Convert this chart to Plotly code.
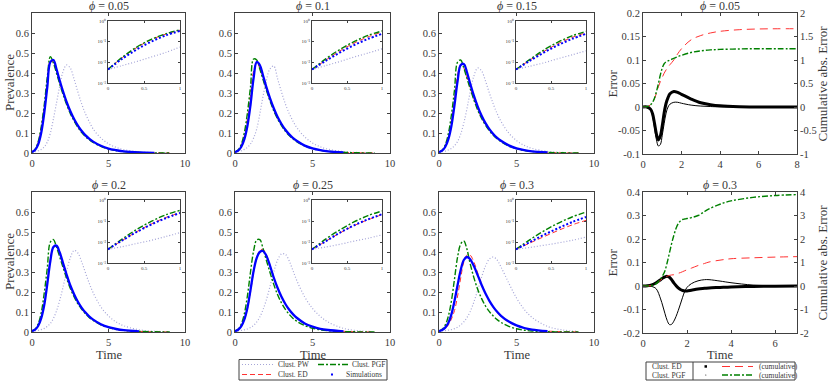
import plotly.graph_objects as go

SERIF = "Liberation Serif, Times New Roman, Times, serif"
W, H = 830, 381

# time grid of the prevalence curves
T = [0, 0.2, 0.4, 0.6, 0.8, 1.0, 1.2, 1.4, 1.6, 1.8, 2.0, 2.25, 2.5, 2.75, 3.0,
     3.25, 3.5, 3.75, 4.0, 4.5, 5, 5.5, 6, 7, 8, 9]

phi_labels = ["0.05", "0.1", "0.15", "0.2", "0.25", "0.3"]

# prevalence (Clust. PW / ED / PGF / Simulations)
pw_005 = [0.0045, 0.007, 0.011, 0.018, 0.03, 0.055, 0.1, 0.17, 0.25, 0.33, 0.4, 0.44, 0.425, 0.37, 0.305, 0.245, 0.195, 0.155, 0.12, 0.075, 0.046, 0.028, 0.017, 0.006, 0.002, 0.0005]
ed_005 = [0.0045, 0.017, 0.052, 0.125, 0.23, 0.36, 0.46, 0.455, 0.41, 0.355, 0.305, 0.25, 0.202, 0.163, 0.13, 0.104, 0.083, 0.067, 0.054, 0.034, 0.021, 0.013, 0.008, 0.003, 0.001, 0.0003]
pgf_005 = [0.0045, 0.018, 0.055, 0.13, 0.24, 0.38, 0.482, 0.45, 0.4, 0.348, 0.3, 0.245, 0.198, 0.16, 0.128, 0.102, 0.082, 0.066, 0.053, 0.033, 0.02, 0.012, 0.007, 0.0025, 0.0008, 0.0002]
sim_005 = [0.0045, 0.015, 0.042, 0.1, 0.2, 0.33, 0.455, 0.465, 0.42, 0.365, 0.315, 0.258, 0.21, 0.17, 0.137, 0.11, 0.088, 0.071, 0.057, 0.036, 0.022, 0.014, 0.008, 0.003, 0.001, None]

pw_01 = [0.0045, 0.007, 0.011, 0.018, 0.028, 0.045, 0.075, 0.12, 0.195, 0.28, 0.355, 0.42, 0.435, 0.37, 0.305, 0.245, 0.197, 0.158, 0.126, 0.08, 0.05, 0.031, 0.019, 0.007, 0.0025, 0.0008]
ed_01 = [0.0045, 0.013, 0.036, 0.085, 0.17, 0.29, 0.41, 0.448, 0.425, 0.378, 0.326, 0.268, 0.216, 0.174, 0.14, 0.112, 0.09, 0.072, 0.058, 0.036, 0.022, 0.014, 0.008, 0.003, 0.001, 0.0003]
pgf_01 = [0.0045, 0.015, 0.042, 0.1, 0.2, 0.33, 0.47, 0.465, 0.42, 0.37, 0.32, 0.262, 0.211, 0.17, 0.137, 0.109, 0.087, 0.07, 0.056, 0.035, 0.022, 0.013, 0.008, 0.003, 0.001, 0.0003]
sim_01 = [0.0045, 0.012, 0.03, 0.068, 0.135, 0.24, 0.375, 0.455, 0.44, 0.39, 0.336, 0.276, 0.224, 0.18, 0.145, 0.116, 0.093, 0.074, 0.06, 0.037, 0.023, 0.014, 0.008, 0.003, None, None]

pw_015 = [0.0045, 0.0065, 0.0095, 0.015, 0.023, 0.036, 0.058, 0.095, 0.15, 0.22, 0.3, 0.385, 0.425, 0.41, 0.36, 0.3, 0.245, 0.197, 0.158, 0.1, 0.062, 0.038, 0.023, 0.008, 0.003, 0.001]
ed_015 = [0.0045, 0.013, 0.034, 0.08, 0.16, 0.27, 0.39, 0.44, 0.425, 0.38, 0.33, 0.271, 0.219, 0.176, 0.142, 0.114, 0.091, 0.073, 0.059, 0.037, 0.023, 0.014, 0.008, 0.003, 0.001, 0.0003]
pgf_015 = [0.0045, 0.014, 0.04, 0.095, 0.19, 0.315, 0.455, 0.465, 0.425, 0.375, 0.325, 0.266, 0.214, 0.173, 0.139, 0.111, 0.089, 0.071, 0.057, 0.035, 0.022, 0.013, 0.008, 0.003, 0.001, 0.0003]
sim_015 = [0.0045, 0.012, 0.03, 0.068, 0.135, 0.24, 0.36, 0.44, 0.445, 0.405, 0.35, 0.287, 0.232, 0.186, 0.149, 0.119, 0.095, 0.076, 0.061, 0.038, 0.023, 0.014, 0.008, 0.003, None, None]

pw_02 = [0.0045, 0.006, 0.0085, 0.012, 0.018, 0.028, 0.043, 0.068, 0.105, 0.155, 0.215, 0.3, 0.37, 0.408, 0.395, 0.35, 0.295, 0.242, 0.196, 0.126, 0.08, 0.05, 0.031, 0.011, 0.004, 0.0012]
ed_02 = [0.0045, 0.012, 0.031, 0.072, 0.145, 0.25, 0.365, 0.425, 0.428, 0.395, 0.345, 0.283, 0.228, 0.183, 0.147, 0.117, 0.093, 0.074, 0.059, 0.037, 0.023, 0.014, 0.008, 0.003, 0.001, 0.0003]
pgf_02 = [0.0045, 0.014, 0.04, 0.095, 0.195, 0.32, 0.45, 0.462, 0.425, 0.378, 0.33, 0.271, 0.219, 0.176, 0.141, 0.113, 0.09, 0.072, 0.058, 0.036, 0.022, 0.013, 0.008, 0.003, 0.001, 0.0003]
sim_02 = [0.0045, 0.012, 0.03, 0.068, 0.135, 0.24, 0.355, 0.425, 0.432, 0.4, 0.352, 0.29, 0.234, 0.189, 0.151, 0.121, 0.097, 0.077, 0.062, 0.039, 0.024, 0.015, 0.009, 0.003, None, None]

pw_025 = [0.0045, 0.0058, 0.0078, 0.011, 0.015, 0.022, 0.033, 0.05, 0.075, 0.11, 0.155, 0.225, 0.3, 0.36, 0.39, 0.388, 0.355, 0.305, 0.255, 0.175, 0.118, 0.078, 0.05, 0.018, 0.006, 0.002]
ed_025 = [0.0045, 0.011, 0.027, 0.06, 0.115, 0.2, 0.3, 0.37, 0.408, 0.413, 0.39, 0.335, 0.272, 0.218, 0.174, 0.138, 0.109, 0.086, 0.068, 0.042, 0.026, 0.016, 0.01, 0.0035, 0.0012, 0.0004]
pgf_025 = [0.0045, 0.014, 0.038, 0.09, 0.18, 0.3, 0.405, 0.46, 0.462, 0.42, 0.365, 0.3, 0.238, 0.186, 0.145, 0.113, 0.088, 0.068, 0.053, 0.032, 0.019, 0.011, 0.0065, 0.0022, 0.0007, 0.0002]
sim_025 = [0.0045, 0.011, 0.028, 0.062, 0.12, 0.21, 0.305, 0.37, 0.4, 0.405, 0.385, 0.333, 0.272, 0.22, 0.176, 0.14, 0.111, 0.088, 0.07, 0.043, 0.027, 0.016, 0.01, 0.003, None, None]

pw_03 = [0.0045, 0.0055, 0.007, 0.009, 0.012, 0.017, 0.024, 0.035, 0.05, 0.072, 0.1, 0.15, 0.21, 0.275, 0.33, 0.365, 0.375, 0.36, 0.325, 0.245, 0.17, 0.113, 0.073, 0.028, 0.01, 0.003]
ed_03 = [0.0045, 0.009, 0.018, 0.035, 0.065, 0.107, 0.18, 0.27, 0.35, 0.385, 0.385, 0.35, 0.295, 0.24, 0.193, 0.155, 0.123, 0.098, 0.078, 0.049, 0.031, 0.019, 0.012, 0.0045, 0.0017, 0.0006]
pgf_03 = [0.0045, 0.013, 0.034, 0.078, 0.155, 0.265, 0.375, 0.44, 0.455, 0.415, 0.345, 0.272, 0.213, 0.167, 0.13, 0.102, 0.08, 0.062, 0.048, 0.028, 0.016, 0.009, 0.005, 0.0016, 0.0005, 0.0001]
sim_03 = [0.0045, 0.01, 0.022, 0.045, 0.088, 0.155, 0.235, 0.31, 0.36, 0.375, 0.365, 0.33, 0.283, 0.235, 0.192, 0.156, 0.126, 0.101, 0.081, 0.052, 0.033, 0.02, 0.012, 0.004, None, None]

pw_all = [pw_005, pw_01, pw_015, pw_02, pw_025, pw_03]
ed_all = [ed_005, ed_01, ed_015, ed_02, ed_025, ed_03]
pgf_all = [pgf_005, pgf_01, pgf_015, pgf_02, pgf_025, pgf_03]
sim_all = [sim_005, sim_01, sim_015, sim_02, sim_025, sim_03]

# error panels (phi = 0.05 and phi = 0.3)
TE_005 = [0, 0.2, 0.4, 0.5, 0.6, 0.7, 0.8, 0.9, 1.0, 1.1, 1.2, 1.3, 1.4, 1.6, 1.8, 2.0, 2.5, 3.0, 3.5, 4.0, 5.0, 6.0, 7.0, 8.0]
err_ed_005 = [0, 0, -0.005, -0.015, -0.035, -0.058, -0.07, -0.062, -0.04, -0.012, 0.008, 0.02, 0.028, 0.033, 0.031, 0.027, 0.017, 0.009, 0.005, 0.0025, 0.0006, 0.0001, 0, 0]
err_pgf_005 = [0, 0, -0.006, -0.02, -0.045, -0.07, -0.083, -0.08, -0.06, -0.035, -0.013, 0.0, 0.006, 0.01, 0.01, 0.008, 0.004, 0.002, 0.001, 0.0003, 0, 0, 0, 0]
cum_ed_005 = [0, 0.005, 0.05, 0.1, 0.18, 0.3, 0.43, 0.54, 0.63, 0.72, 0.79, 0.85, 0.9, 1.0, 1.13, 1.24, 1.43, 1.52, 1.575, 1.61, 1.645, 1.66, 1.665, 1.665]
cum_pgf_005 = [0, 0.005, 0.05, 0.1, 0.19, 0.33, 0.5, 0.68, 0.83, 0.92, 0.96, 0.98, 1.0, 1.035, 1.07, 1.1, 1.16, 1.195, 1.215, 1.225, 1.235, 1.24, 1.24, 1.24]

TE_03 = [0, 0.2, 0.4, 0.6, 0.8, 0.9, 1.0, 1.1, 1.2, 1.3, 1.4, 1.5, 1.6, 1.7, 1.8, 1.9, 2.0, 2.2, 2.5, 2.8, 3.0, 3.5, 4.0, 5.0, 6.0, 7.0]
err_ed_03 = [0, 0.001, 0.005, 0.014, 0.027, 0.034, 0.039, 0.041, 0.037, 0.027, 0.013, 0.002, -0.008, -0.015, -0.019, -0.021, -0.021, -0.018, -0.013, -0.01, -0.008, -0.006, -0.004, -0.002, -0.001, 0]
err_pgf_03 = [0, 0, -0.002, -0.012, -0.055, -0.085, -0.118, -0.147, -0.164, -0.163, -0.15, -0.13, -0.105, -0.077, -0.048, -0.022, -0.006, 0.01, 0.022, 0.027, 0.027, 0.021, 0.014, 0.004, 0.001, 0]
cum_ed_03 = [0, 0.0, 0.02, 0.1, 0.25, 0.32, 0.38, 0.42, 0.45, 0.47, 0.48, 0.5, 0.54, 0.57, 0.61, 0.65, 0.69, 0.76, 0.87, 0.96, 1.02, 1.1, 1.16, 1.2, 1.23, 1.25]
cum_pgf_03 = [0, 0.0, 0.02, 0.1, 0.3, 0.45, 0.65, 1.0, 1.4, 1.8, 2.15, 2.45, 2.65, 2.77, 2.83, 2.85, 2.87, 2.91, 3.0, 3.17, 3.28, 3.48, 3.62, 3.77, 3.85, 3.89]

# tick labels
prev_ticks = [0, 0.1, 0.2, 0.3, 0.4, 0.5, 0.6]
inset_yticks = [0.001, 0.01, 0.1, 1]
inset_ytext = ["10⁻³", "10⁻²", "10⁻¹", "10⁰"]
err1_ticks = [-0.1, -0.05, 0, 0.05, 0.1, 0.15, 0.2]
err1_text = ["-0.1", "-0.05", "0", "0.05", "0.1", "0.15", "0.2"]
cum1_ticks = [-1, -0.5, 0, 0.5, 1, 1.5, 2]
cum1_text = ["-1", "-0.5", "0", "0.5", "1", "1.5", "2"]
err2_ticks = [-0.2, -0.1, 0, 0.1, 0.2, 0.3, 0.4]
err2_text = ["-0.2", "-0.1", "0", "0.1", "0.2", "0.3", "0.4"]
cum2_ticks = [-2, -1, 0, 1, 2, 3, 4]
cum2_text = ["-2", "-1", "0", "1", "2", "3", "4"]

PW = dict(color="rgb(165,165,215)", width=1.2, dash="1px,2px")
ED = dict(color="rgb(255,50,50)", width=1, dash="5px,3px")
PGF = dict(color="rgb(0,128,0)", width=1.4, dash="6px,2px,2px,2px")
SIM = dict(color="rgb(0,0,255)", width=2.3)
SIM_IN = dict(color="rgb(0,0,255)", width=2, dash="2px,2px")
INK = "#383838"


def px(x):
    return x / W


def py(y):
    return 1 - y / H


def ref(n, letter):
    return letter if n == 1 else f"{letter}{n}"


def key(n, letter):
    return f"{letter}axis" if n == 1 else f"{letter}axis{n}"


base_ax = dict(showline=True, linecolor="#404040", linewidth=1, mirror="ticks",
               ticks="inside", ticklen=3, tickcolor="#404040", showgrid=False,
               zeroline=False, automargin=False,
               tickfont=dict(family=SERIF, size=10.5, color=INK))

cols = [(32, 185), (235, 390), (439, 594)]
rows = [(13, 153), (192, 332)]
inset_cols = [(108, 180), (312, 382), (516, 586)]
inset_rows = [(21, 83), (200, 263)]

fig = go.Figure()
layout = {}
ann = []

for k in range(6):
    r, c = divmod(k, 3)
    n, m = k + 1, k + 7
    styles = [(pw_all[k], PW), (ed_all[k], ED), (pgf_all[k], PGF), (sim_all[k], SIM)]
    for vals, st in styles:
        fig.add_trace(go.Scatter(x=T, y=vals, mode="lines", line=dict(st, shape="spline"),
                                 xaxis=ref(n, "x"), yaxis=ref(n, "y"), showlegend=False,
                                 hoverinfo="skip"))
    cut = T.index(1.0) + 1
    for vals, st in styles:
        st2 = SIM_IN if st is SIM else st
        fig.add_trace(go.Scatter(x=T[:cut], y=vals[:cut], mode="lines",
                                 line=dict(st2, shape="spline"),
                                 xaxis=ref(m, "x"), yaxis=ref(m, "y"), showlegend=False,
                                 hoverinfo="skip"))
    x0, x1 = cols[c]
    y0, y1 = rows[r]
    layout[key(n, "x")] = dict(base_ax, domain=[px(x0), px(x1)], anchor=ref(n, "y"),
                               range=[0, 10], tickvals=[0, 5, 10])
    layout[key(n, "y")] = dict(base_ax, domain=[py(y1), py(y0)], anchor=ref(n, "x"),
                               range=[0, 0.7], tickvals=prev_ticks)
    ix0, ix1 = inset_cols[c]
    iy0, iy1 = inset_rows[r]
    small = dict(base_ax, ticklen=2, tickfont=dict(family=SERIF, size=5, color=INK))
    layout[key(m, "x")] = dict(small, domain=[px(ix0), px(ix1)], anchor=ref(m, "y"),
                               range=[0, 1], tickvals=[0, 0.5, 1])
    layout[key(m, "y")] = dict(small, domain=[py(iy1), py(iy0)], anchor=ref(m, "x"),
                               type="log", range=[-3, 0], tickvals=inset_yticks,
                               ticktext=inset_ytext)
    ann.append(dict(text=f"<i>ϕ</i> = {phi_labels[k]}", x=px((x0 + x1) / 2),
                    y=py(y0 - 7), font=dict(size=12)))
    if c == 0:
        ann.append(dict(text="Prevalence", x=px(9), y=py((y0 + y1) / 2),
                        textangle=-90, font=dict(size=13)))
    if r == 1:
        ann.append(dict(text="Time", x=px((x0 + x1) / 2), y=py(355), font=dict(size=12.5)))

# error panels
err_sets = [
    (TE_005, err_ed_005, err_pgf_005, cum_ed_005, cum_pgf_005, [0, 8], [0, 2, 4, 6, 8],
     [-0.1, 0.2], err1_ticks, err1_text, [-1, 2], cum1_ticks, cum1_text, (13, 154), "0.05"),
    (TE_03, err_ed_03, err_pgf_03, cum_ed_03, cum_pgf_03, [0, 7], [0, 2, 4, 6],
     [-0.2, 0.4], err2_ticks, err2_text, [-2, 4], cum2_ticks, cum2_text, (192, 333), "0.3"),
]
for j, (te, e_ed, e_pgf, c_ed, c_pgf, xr, xt, yr, yt, ytt, cr, ct, ctt, (y0, y1), lab) in enumerate(err_sets):
    xn, yn, cn = 13 + j, 13 + j, 15 + j
    fig.add_trace(go.Scatter(x=te, y=e_ed, mode="lines", line=dict(color="black", width=3, shape="spline"),
                             xaxis=ref(xn, "x"), yaxis=ref(yn, "y"), showlegend=False, hoverinfo="skip"))
    fig.add_trace(go.Scatter(x=te, y=e_pgf, mode="lines", line=dict(color="black", width=1, shape="spline"),
                             xaxis=ref(xn, "x"), yaxis=ref(yn, "y"), showlegend=False, hoverinfo="skip"))
    fig.add_trace(go.Scatter(x=te, y=c_ed, mode="lines",
                             line=dict(color="rgb(255,50,50)", width=1, dash="8px,5px", shape="spline"),
                             xaxis=ref(xn, "x"), yaxis=ref(cn, "y"), showlegend=False, hoverinfo="skip"))
    fig.add_trace(go.Scatter(x=te, y=c_pgf, mode="lines", line=dict(PGF, shape="spline"),
                             xaxis=ref(xn, "x"), yaxis=ref(cn, "y"), showlegend=False, hoverinfo="skip"))
    layout[key(xn, "x")] = dict(base_ax, domain=[px(643), px(797)], anchor=ref(yn, "y"),
                                range=xr, tickvals=xt)
    layout[key(yn, "y")] = dict(base_ax, domain=[py(y1), py(y0)], anchor=ref(xn, "x"),
                                mirror=False, range=yr, tickvals=yt, ticktext=ytt)
    layout[key(cn, "y")] = dict(base_ax, domain=[py(y1), py(y0)], anchor=ref(xn, "x"),
                                overlaying=ref(yn, "y"), side="right", mirror=False,
                                range=cr, tickvals=ct, ticktext=ctt)
    ann.append(dict(text=f"<i>ϕ</i> = {lab}", x=px(720), y=py(y0 - 7), font=dict(size=12)))
    ann.append(dict(text="Error", x=px(612), y=py((y0 + y1) / 2), textangle=-90, font=dict(size=13)))
    ann.append(dict(text="Cumulative abs. Error", x=px(822), y=py((y0 + y1) / 2),
                    textangle=-90, font=dict(size=13)))
ann.append(dict(text="Time", x=px(720), y=py(355), font=dict(size=12.5)))

# hand-made legends
shapes = []


def seg(xa, xb, y, st):
    shapes.append(dict(type="line", xref="paper", yref="paper", x0=px(xa), x1=px(xb),
                       y0=py(y), y1=py(y), line=dict(color=st["color"], width=st["width"],
                                                     dash=st.get("dash", "solid"))))


def label(text, x, y, anchor="left"):
    ann.append(dict(text=text, x=px(x), y=py(y), xanchor=anchor, font=dict(size=7.5)))


shapes.append(dict(type="rect", xref="paper", yref="paper", x0=px(239), x1=px(387),
                   y0=py(380), y1=py(359.5), line=dict(color="#404040", width=1)))
seg(242, 273, 364.5, PW)
label("Clust. PW", 276, 364.5)
seg(242, 273, 374.5, ED)
label("Clust. ED", 276, 374.5)
seg(318, 348, 364.5, PGF)
label("Clust. PGF", 350, 364.5)
shapes.append(dict(type="rect", xref="paper", yref="paper", x0=px(331), x1=px(333),
                   y0=py(375.5), y1=py(373.5), fillcolor="blue", line=dict(width=0)))
label("Simulations", 384, 374.5, "right")

shapes.append(dict(type="rect", xref="paper", yref="paper", x0=px(646), x1=px(795),
                   y0=py(380), y1=py(362), line=dict(color="#404040", width=1)))
shapes.append(dict(type="line", xref="paper", yref="paper", x0=px(693), x1=px(693),
                   y0=py(380), y1=py(362), line=dict(color="#404040", width=1)))
label("Clust. ED", 650, 366.5)
label("Clust. PGF", 650, 375)
shapes.append(dict(type="rect", xref="paper", yref="paper", x0=px(704.5), x1=px(707),
                   y0=py(367.7), y1=py(365.2), fillcolor="black", line=dict(width=0)))
shapes.append(dict(type="circle", xref="paper", yref="paper", x0=px(705.3), x1=px(706.3),
                   y0=py(375.5), y1=py(374.5), fillcolor="black", line=dict(width=0)))
seg(722, 753, 366.5, dict(color="rgb(255,50,50)", width=1, dash="8px,5px"))
label("(cumulative)", 757, 366.5)
seg(722, 753, 375, PGF)
label("(cumulative)", 757, 375)

for a in ann:
    a.setdefault("xref", "paper")
    a.setdefault("yref", "paper")
    a.setdefault("showarrow", False)
    a.setdefault("xanchor", "center")
    a.setdefault("yanchor", "middle")
    a["font"] = dict(family=SERIF, color=INK, size=a["font"]["size"])

fig.update_layout(width=W, height=H, margin=dict(l=0, r=0, t=0, b=0),
                  paper_bgcolor="white", plot_bgcolor="white",
                  font=dict(family=SERIF, color=INK), showlegend=False,
                  annotations=ann, shapes=shapes, **layout)

# the page's default body margin would shift the figure by 8px
fig.write_html("out.html", config={"displayModeBar": False},
               post_script="document.body.style.margin='0';")
